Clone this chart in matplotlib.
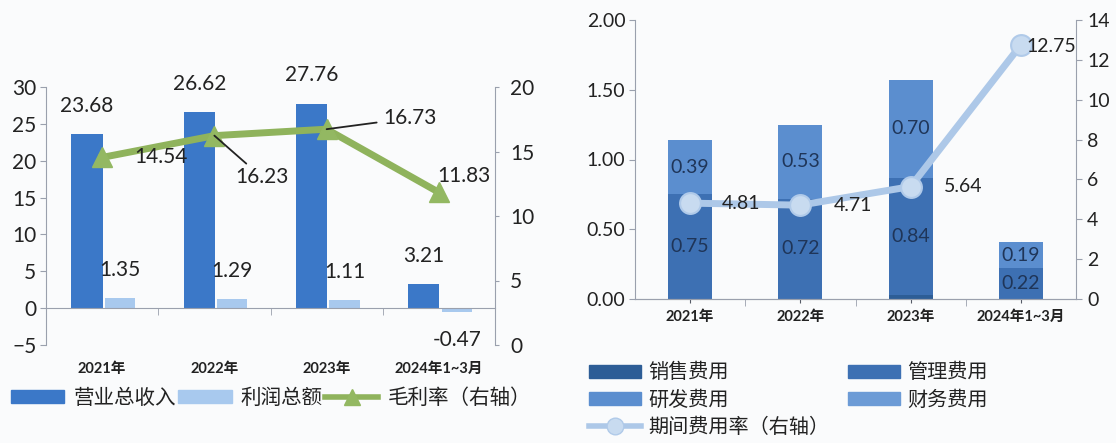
import numpy as np
import matplotlib.pyplot as plt
from matplotlib.lines import Line2D
from matplotlib.patches import Patch

plt.rcParams['font.family'] = ['Lato', 'Noto Sans CJK SC', 'DejaVu Sans']

years = ["2021年", "2022年", "2023年", "2024年1~3月"]

# left chart
revenue = [23.68, 26.62, 27.76, 3.21]
profit = [1.35, 1.29, 1.11, -0.47]
gross_margin = [14.54, 16.23, 16.73, 11.83]

# right chart
sales_exp = [0.00, 0.00, 0.03, 0.00]
admin_exp = [0.75, 0.72, 0.84, 0.22]
rd_exp = [0.39, 0.53, 0.70, 0.19]
fin_exp = [0.00, 0.00, 0.00, 0.00]
period_rate = [4.81, 4.71, 5.64, 12.75]

axis_c = "#9aa0ad"
txt_c = "#222222"
bg = "#fafbfc"

fig = plt.figure(figsize=(11.16, 4.43), dpi=100)
fig.patch.set_facecolor(bg)
W, H = 1116, 443

x = np.arange(len(years))

# ---------- left chart ----------
ax1 = fig.add_axes([46 / W, 1 - 345 / H, (495 - 46) / W, (345 - 87) / H])
ax1.set_facecolor("none")
ax1r = ax1.twinx()

b_rev = ax1.bar(x - 0.135, revenue, width=0.28, color="#3b78c8", zorder=2)
b_pro = ax1.bar(x + 0.16, profit, width=0.27, color="#a8c9ee", zorder=2)
ax1.bar_label(b_rev, fmt="%.2f", padding=13, fontsize=15, color=txt_c)
ax1.bar_label(b_pro, fmt="%.2f", padding=13, fontsize=15, color=txt_c)

ax1.set_xlim(-0.5, 3.5)
ax1.set_ylim(-5, 30)
ax1.set_yticks(np.arange(-5, 31, 5))
ax1r.set_ylim(0, 20)
ax1r.set_yticks(np.arange(0, 21, 5))

ax1r.plot(x, gross_margin, color="#8fb35c", lw=5, marker="^",
          markersize=15, markerfacecolor="#93b862",
          markeredgecolor="#93b862", zorder=3)
ax1r.set_zorder(ax1.get_zorder() + 1)
ax1r.patch.set_visible(False)

ax1r.annotate("14.54", (x[0], gross_margin[0]), xytext=(23, 0),
              textcoords="offset points", ha="left", va="center",
              fontsize=15, color=txt_c)
ax1r.annotate("16.23", (x[1], gross_margin[1]), xytext=(15, -30),
              textcoords="offset points", ha="left", va="center",
              fontsize=15, color=txt_c,
              arrowprops=dict(arrowstyle="-", color=txt_c, lw=1.3,
                              shrinkA=1, shrinkB=0))
ax1r.annotate("16.73", (x[2], gross_margin[2]), xytext=(41, 8),
              textcoords="offset points", ha="left", va="center",
              fontsize=15, color=txt_c,
              arrowprops=dict(arrowstyle="-", color=txt_c, lw=1.3,
                              shrinkA=3, shrinkB=0))
ax1r.annotate("11.83", (x[3], gross_margin[3]), xytext=(-1, 12),
              textcoords="offset points", ha="left", va="center",
              fontsize=15, color=txt_c)

for a in (ax1, ax1r):
    a.spines["top"].set_visible(False)
    for s in ("left", "right", "bottom"):
        a.spines[s].set_color(axis_c)
ax1.spines["right"].set_visible(False)
ax1r.spines["left"].set_visible(False)
ax1r.spines["bottom"].set_visible(False)
ax1.spines["bottom"].set_position(("data", 0))

ax1.set_xticks(x)
ax1.set_xticklabels(years, fontsize=10.5, fontweight="bold", color=txt_c)
ax1.set_xticks([0.5, 1.5, 2.5], minor=True)
ax1.tick_params(axis="x", which="major", length=0, pad=39)
ax1.tick_params(axis="x", which="minor", length=5, color=axis_c)
ax1.tick_params(axis="y", labelsize=15, length=4, color=axis_c,
                labelcolor=txt_c, pad=3)
ax1r.tick_params(axis="y", labelsize=15, length=3, color=axis_c,
                 labelcolor=txt_c, pad=8)

fig.legend(
    handles=[Patch(color="#3b78c8"), Patch(color="#a8c9ee"),
             Line2D([], [], color="#8fb35c", lw=4, marker="^",
                    markersize=12, markerfacecolor="#93b862",
                    markeredgecolor="#93b862")],
    labels=["营业总收入", "利润总额", "毛利率（右轴）"],
    loc="center left", bbox_to_anchor=(11 / W, 1 - 398 / H), ncol=3,
    frameon=False, fontsize=14.8, handlelength=2.6, handleheight=0.6,
    handletextpad=0.45, columnspacing=0.1, borderpad=0, borderaxespad=0,
    numpoints=1, labelcolor=txt_c)

# ---------- right chart ----------
ax2 = fig.add_axes([635 / W, 1 - 299 / H, (1076 - 635) / W, (299 - 20) / H])
ax2.set_facecolor("none")
c_sales, c_admin, c_rd, c_fin = "#2d5d96", "#3d70b3", "#5b8ecf", "#6c9bd6"
bottom = np.zeros(len(years))
bars = []
for vals, col in ((sales_exp, c_sales), (admin_exp, c_admin),
                  (rd_exp, c_rd), (fin_exp, c_fin)):
    b = ax2.bar(x, vals, width=0.4, bottom=bottom, color=col, zorder=2)
    bars.append(b)
    bottom = bottom + np.array(vals)
ax2.bar_label(bars[1], fmt="%.2f", label_type="center", fontsize=14,
              color="#1f3558")
ax2.bar_label(bars[2], fmt="%.2f", label_type="center", fontsize=14,
              color="#1f3558")

ax2.set_xlim(-0.5, 3.5)
ax2.set_ylim(0, 2.0)
ax2.set_yticks(np.arange(0, 2.01, 0.5))
ax2.set_yticklabels([f"{v:.2f}" for v in np.arange(0, 2.01, 0.5)])

ax2r = ax2.twinx()
ax2r.set_ylim(0, 14)
ax2r.set_yticks(np.arange(0, 15, 2))
ax2r.plot(x, period_rate, color="#adc8e8", lw=5, marker="o", markersize=15,
          markerfacecolor="#c8dbf0", markeredgecolor="#b0cae9",
          markeredgewidth=1.5, zorder=3)
rate_off = [(23, 0), (24, 0), (24, 0), (4, -1)]
for xi, v, off in zip(x, period_rate, rate_off):
    ax2r.annotate(f"{v:.2f}", (xi, v), xytext=off, textcoords="offset points",
                  ha="left", va="center", fontsize=14, color=txt_c)

for a in (ax2, ax2r):
    a.spines["top"].set_visible(False)
    for s in ("left", "right", "bottom"):
        a.spines[s].set_color(axis_c)
ax2.spines["right"].set_visible(False)
ax2r.spines["left"].set_visible(False)

ax2.set_xticks(x)
ax2.set_xticklabels(years, fontsize=10.5, fontweight="bold", color=txt_c)
ax2.set_xticks([0.5, 1.5, 2.5], minor=True)
ax2.tick_params(axis="x", which="major", length=3, color="#555a66", pad=5)
ax2.tick_params(axis="x", which="minor", length=5, color=axis_c)
ax2.tick_params(axis="y", labelsize=14, length=4, color=axis_c,
                labelcolor=txt_c, pad=3)
ax2r.tick_params(axis="y", labelsize=14, length=4, color=axis_c,
                 labelcolor=txt_c, pad=4)

fig.legend(
    handles=[Patch(color=c_sales), Patch(color=c_rd),
             Line2D([], [], color="#adc8e8", lw=4, marker="o", markersize=12,
                    markerfacecolor="#c8dbf0", markeredgecolor="#b0cae9"),
             Patch(color=c_admin), Patch(color=c_fin)],
    labels=["销售费用", "研发费用", "期间费用率（右轴）", "管理费用", "财务费用"],
    loc="center left", bbox_to_anchor=(589 / W, 1 - 399 / H), ncol=2,
    frameon=False, fontsize=14.5, handlelength=2.6, handleheight=0.6,
    handletextpad=0.35, columnspacing=0.9, labelspacing=0.4, borderpad=0,
    borderaxespad=0, numpoints=1, labelcolor=txt_c)

fig.savefig("out.png", dpi=100, facecolor=bg)
